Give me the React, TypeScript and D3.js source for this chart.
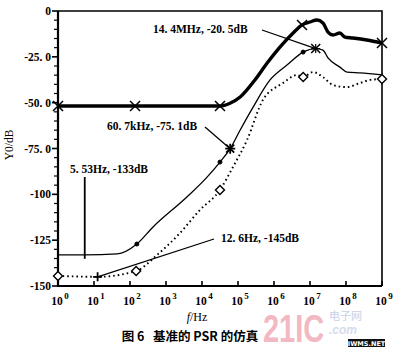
import React, { useEffect, useRef } from "react";
import * as d3 from "d3";

// x ticks (decade exponents) and y ticks
const decadeExps = [0, 1, 2, 3, 4, 5, 6, 7, 8, 9];
const yTickValues = [0, -25, -50, -75, -100, -125, -150];
const yTickLabels = ["0", "-25. 0", "-50. 0", "-75. 0", "-100", "-125", "-150"];

// thick curve
const thickFreq = [1, 138, 31600, 60000, 115000, 295000, 646000, 1.48e6, 3.39e6, 6.0e6, 1.0e7, 1.55e7, 2.29e7, 3.16e7, 4.37e7, 6.76e7, 9.33e7, 1.55e8, 3.8e8, 1e9];
const thickDb = [-51.8, -51.8, -51.8, -50.3, -46.9, -37.6, -28.4, -19.6, -12.0, -7.6, -6.0, -4.9, -6.5, -11.5, -13.1, -12.0, -14.2, -14.7, -15.8, -17.5];
const thickCrossIdx = [0, 1, 2, 9, 19];

// thin solid curve
const thinFreq = [1, 5.53, 44, 155, 437, 3800, 13800, 31600, 60700, 115000, 263000, 776000, 2.29e6, 6.46e6, 1.44e7, 2.29e7, 3.16e7, 6.76e7, 1.07e8, 2.45e8, 1e9];
const thinDb = [-133, -133, -132.5, -127.1, -117.8, -101.5, -90.6, -82.4, -75.1, -64.9, -52.4, -37.6, -29.5, -22.4, -20.5, -21.3, -25.6, -30.6, -33.3, -33.8, -34.9];
const thinDotIdx = [3, 7, 13];
const thinStarIdx = 8;
const thinCrossIdx = 14;

// dotted curve
const dotFreq = [1, 12.6, 148, 562, 2450, 8700, 31600, 72400, 178000, 490000, 1.78e6, 4.37e6, 6.46e6, 1.2e7, 2.29e7, 4.37e7, 1.07e8, 2.45e8, 4.68e8, 1e9];
const dotDb = [-144.5, -145, -141.8, -133.1, -121.1, -108.6, -97.6, -85.1, -70.4, -48.6, -39.3, -34.9, -36, -33.3, -36, -40.4, -41.5, -39.3, -37.6, -37.1];
const dotDiamondIdx = [0, 2, 6, 12, 19];
const dotPlusIdx = 1;

const SERIF = "'Liberation Serif', 'DejaVu Serif', serif";
const CJK = "'Noto Sans CJK SC', sans-serif";

export default function App() {
  const ref = useRef<SVGSVGElement | null>(null);
  const width = 400;
  const height = 350;

  useEffect(() => {
    const svg = d3.select(ref.current);
    svg.selectAll("*").remove();

    const left = 58, right = 382, top = 11, bottom = 286;
    const x = d3.scaleLog().domain([1, 1e9]).range([left, right]);
    const y = d3.scaleLinear().domain([-150, 0]).range([bottom, top]);

    svg.append("rect").attr("width", width).attr("height", height).attr("fill", "#fff");

    // watermark
    const wm = svg.append("g");
    wm.append("text").attr("transform", "translate(263,342) scale(1,1.35)")
      .attr("font-family", "'Liberation Sans', sans-serif").attr("font-weight", 700)
      .attr("font-size", 29).attr("fill", "#f2b9c2").text("21IC");
    wm.append("text").attr("x", 329).attr("y", 320).attr("font-family", CJK)
      .attr("font-size", 11).attr("fill", "#c9cfe6").text("电子网");
    wm.append("text").attr("x", 329).attr("y", 334).attr("font-family", "'Liberation Sans', sans-serif")
      .attr("font-style", "italic").attr("font-weight", 700).attr("font-size", 12)
      .attr("fill", "#d6dbee").text(".com");
    wm.append("rect").attr("x", 348).attr("y", 339).attr("width", 37).attr("height", 8).attr("fill", "#111");
    wm.append("text").attr("x", 366.5).attr("y", 345.5).attr("text-anchor", "middle")
      .attr("font-family", "'DejaVu Sans', sans-serif").attr("font-weight", 700)
      .attr("font-size", 6.5).attr("fill", "#fff").text("IWMS.NET");

    // frame
    svg.append("path")
      .attr("d", `M${left},${top}H${right}V${bottom}`)
      .attr("fill", "none").attr("stroke", "#000").attr("stroke-width", 1.6);
    svg.append("path")
      .attr("d", `M${left},${top}V${bottom}H${right}`)
      .attr("fill", "none").attr("stroke", "#000").attr("stroke-width", 2.2);

    // y ticks
    const yAxis = svg.append("g");
    d3.range(0, -151, -5).forEach((v) => {
      const major = v % 25 === 0;
      yAxis.append("line")
        .attr("x1", left - (major ? 6 : 4)).attr("x2", left)
        .attr("y1", y(v)).attr("y2", y(v))
        .attr("stroke", "#000").attr("stroke-width", major ? 1.6 : 1.2);
    });
    yTickValues.forEach((v, i) => {
      yAxis.append("text")
        .attr("x", left - 7).attr("y", y(v) + 4)
        .attr("text-anchor", "end")
        .attr("font-family", SERIF).attr("font-weight", 700).attr("font-size", 11.5)
        .text(yTickLabels[i]);
    });

    // x ticks
    const xAxis = svg.append("g");
    decadeExps.forEach((e) => {
      const px = x(Math.pow(10, e));
      xAxis.append("line")
        .attr("x1", px).attr("x2", px).attr("y1", bottom).attr("y2", bottom - 5)
        .attr("stroke", "#000").attr("stroke-width", 1.6);
      const t = xAxis.append("text")
        .attr("x", px + 2).attr("y", bottom + 19)
        .attr("text-anchor", "middle")
        .attr("font-family", SERIF).attr("font-weight", 700).attr("font-size", 11.5);
      t.append("tspan").text("10");
      t.append("tspan").attr("dy", -6).attr("dx", 1.5).attr("font-size", 9).text(String(e));
    });

    // axis titles
    svg.append("text")
      .attr("transform", `translate(13,145) rotate(-90)`)
      .attr("text-anchor", "middle")
      .attr("font-family", SERIF).attr("font-size", 11.5)
      .text("Y0/dB");
    const xt = svg.append("text")
      .attr("x", 197).attr("y", 321).attr("text-anchor", "middle")
      .attr("font-family", SERIF).attr("font-size", 12);
    xt.append("tspan").attr("font-style", "italic").text("f");
    xt.append("tspan").text("/Hz");

    // caption
    svg.append("text")
      .attr("x", 190).attr("y", 341).attr("text-anchor", "middle")
      .attr("font-family", CJK).attr("font-weight", 700).attr("font-size", 12.5)
      .attr("xml:space", "preserve")
      .text("图 6   基准的 PSR 的仿真");

    const line = d3.line<[number, number]>()
      .x((d) => x(d[0])).y((d) => y(d[1]))
      .curve(d3.curveMonotoneX);
    const pts = (f: number[], db: number[]) => f.map((v, i) => [v, db[i]] as [number, number]);

    const thick = pts(thickFreq, thickDb);
    const thin = pts(thinFreq, thinDb);
    const dotted = pts(dotFreq, dotDb);

    svg.append("path").attr("d", line(dotted)).attr("fill", "none")
      .attr("stroke", "#000").attr("stroke-width", 1.9)
      .attr("stroke-dasharray", "1.6,3");
    svg.append("path").attr("d", line(thin)).attr("fill", "none")
      .attr("stroke", "#000").attr("stroke-width", 1.3);
    svg.append("path").attr("d", line(thick)).attr("fill", "none")
      .attr("stroke", "#000").attr("stroke-width", 3.4).attr("stroke-linejoin", "round");

    // markers
    const mk = svg.append("g").attr("stroke", "#000");
    const cross = (p: [number, number], s = 4.5, w = 1.5) => {
      const cx = x(p[0]), cy = y(p[1]);
      mk.append("path")
        .attr("d", `M${cx - s},${cy - s}L${cx + s},${cy + s}M${cx - s},${cy + s}L${cx + s},${cy - s}`)
        .attr("stroke-width", w).attr("fill", "none");
    };
    const plus = (p: [number, number], s = 4.5, w = 1.5) => {
      const cx = x(p[0]), cy = y(p[1]);
      mk.append("path")
        .attr("d", `M${cx - s},${cy}H${cx + s}M${cx},${cy - s}V${cy + s}`)
        .attr("stroke-width", w).attr("fill", "none");
    };
    thickCrossIdx.forEach((i) => cross(thick[i], 5, 1.5));
    thinDotIdx.forEach((i) => {
      mk.append("circle").attr("cx", x(thin[i][0])).attr("cy", y(thin[i][1]))
        .attr("r", 2).attr("fill", "#000");
    });
    cross(thin[thinStarIdx], 4, 1.8);
    plus(thin[thinStarIdx], 5, 1.8);
    cross(thin[thinCrossIdx], 4.5, 1.5);
    plus(thin[thinCrossIdx], 4.5, 1.2);
    dotDiamondIdx.forEach((i) => {
      const cx = x(dotted[i][0]), cy = y(dotted[i][1]);
      mk.append("path")
        .attr("d", `M${cx},${cy - 4.5}L${cx + 4.5},${cy}L${cx},${cy + 4.5}L${cx - 4.5},${cy}Z`)
        .attr("fill", "#fff").attr("stroke-width", 1.4);
    });
    plus(dotted[dotPlusIdx], 4.5, 1.8);

    // annotations
    const note = (tx: number, ty: number, label: string) =>
      svg.append("text").attr("x", tx).attr("y", ty)
        .attr("font-family", SERIF).attr("font-weight", 700).attr("font-size", 11.5)
        .attr("xml:space", "preserve").text(label);
    const pointer = (x1: number, y1: number, x2: number, y2: number) =>
      svg.append("line").attr("x1", x1).attr("y1", y1).attr("x2", x2).attr("y2", y2)
        .attr("stroke", "#000").attr("stroke-width", 1.3);

    note(153, 33, "14. 4MHz, -20. 5dB");
    pointer(262, 30, x(thinFreq[thinCrossIdx]), y(thinDb[thinCrossIdx]));

    note(107, 130, "60. 7kHz, -75. 1dB");
    pointer(205, 127, x(thinFreq[thinStarIdx]), y(thinDb[thinStarIdx]));

    note(70, 173, "5. 53Hz, -133dB");
    pointer(x(thinFreq[1]), 177, x(thinFreq[1]), y(thinDb[1]) + 4).attr("stroke-width", 1.8);

    note(221, 242, "12. 6Hz, -145dB");
    pointer(214, 239, x(dotFreq[dotPlusIdx]), y(dotDb[dotPlusIdx]));
  }, []);

  return (
    <svg
      ref={ref}
      width={width}
      height={height}
      style={{ position: "absolute", left: 0, top: 0 }}
    />
  );
}
